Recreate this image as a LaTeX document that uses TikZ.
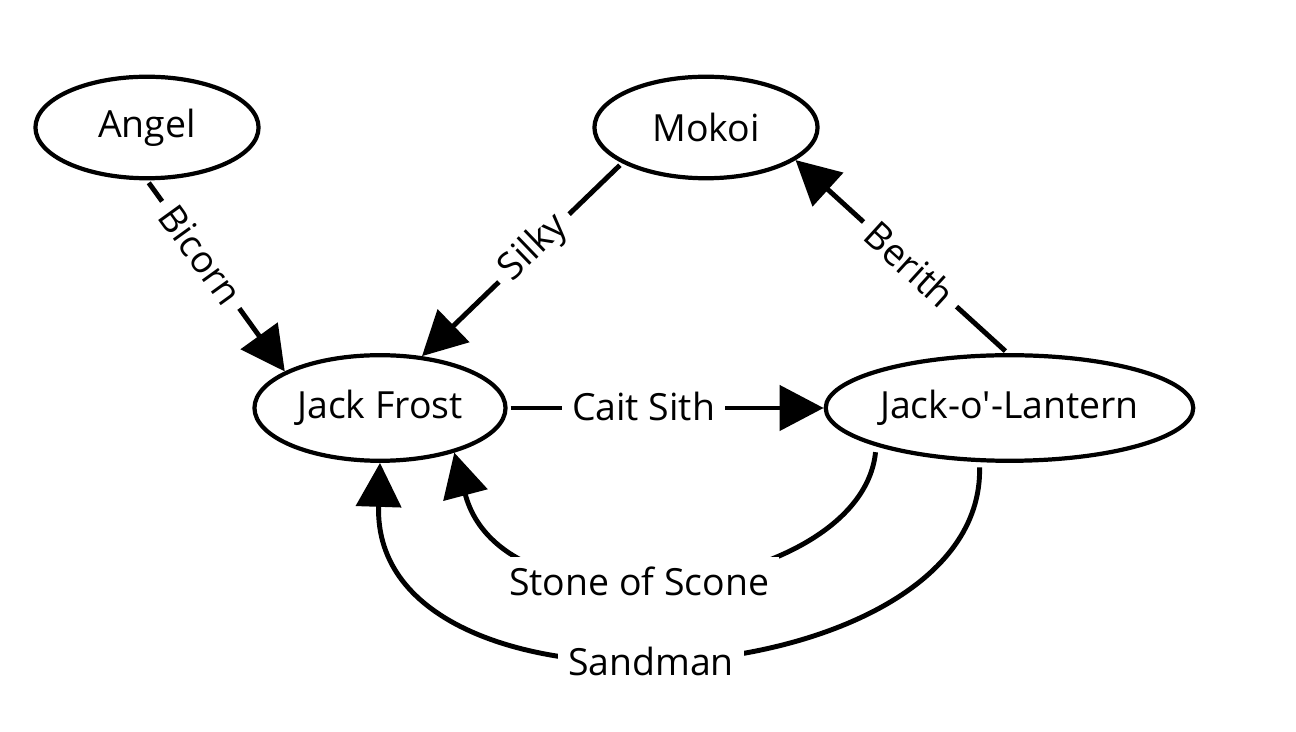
\documentclass[tikz,border=0pt]{standalone}
\usepackage{fontspec}
\setmainfont{Open Sans}
\usetikzlibrary{arrows.meta,shapes.geometric}
\begin{document}
\begin{tikzpicture}[x=0.02cm,y=-0.02cm,
  state/.style={ellipse, draw=black, line width=2.4pt, inner sep=0pt, font=\fontsize{21.3}{25}\selectfont},
  small/.style={minimum width=127pt, minimum height=57.8pt},
  edge/.style={line width=2.8pt, -{Triangle[length=25pt,width=25.5pt]}},
  lbl/.style={fill=white, inner sep=5.5pt, font=\fontsize{21.3}{25}\selectfont}]
\useasboundingbox (0,0) rectangle (1296,732);
\node[state, small] (angel) at (147,127.5) {Angel};
\node[state, small] (mokoi) at (706,127.5) {Mokoi};
\node[state, minimum width=142.9pt, minimum height=60.1pt] (jf) at (380,408) {Jack Frost};
\node[state, minimum width=209.2pt, minimum height=60.1pt] (jol) at (1009.5,408) {Jack-o\textquotesingle-Lantern};
\draw[edge, shorten <=1.7pt] (angel.-90) -- node[lbl, sloped, pos=0.39] {Bicorn} (jf.159);
\draw[edge, shorten <=1.7pt] (mokoi.203) -- node[lbl, sloped, pos=0.44] {Silky} (jf.51);
\draw[edge, shorten <=1.7pt] (jol.92) -- node[lbl, sloped, pos=0.46] {Berith} (mokoi.-20);
\draw[edge, shorten <=1.7pt] (jf.east) -- node[lbl, pos=0.43, yshift=1pt] {Cait Sith} (jol.west);
\draw[edge, shorten <=3.4pt] (jol.196) .. controls +(-15,148) and +(50,190) .. node[lbl, pos=0.55, xshift=-5.7pt, yshift=-2.6pt] {Stone of Scone} (jf.-31);
\draw[edge, shorten <=3pt] (jol.241.5) .. controls +(5,237) and +(-9,277) .. node[lbl, pos=0.53, yshift=-3.4pt] {Sandman} (jf.-90);
\end{tikzpicture}
\end{document}
